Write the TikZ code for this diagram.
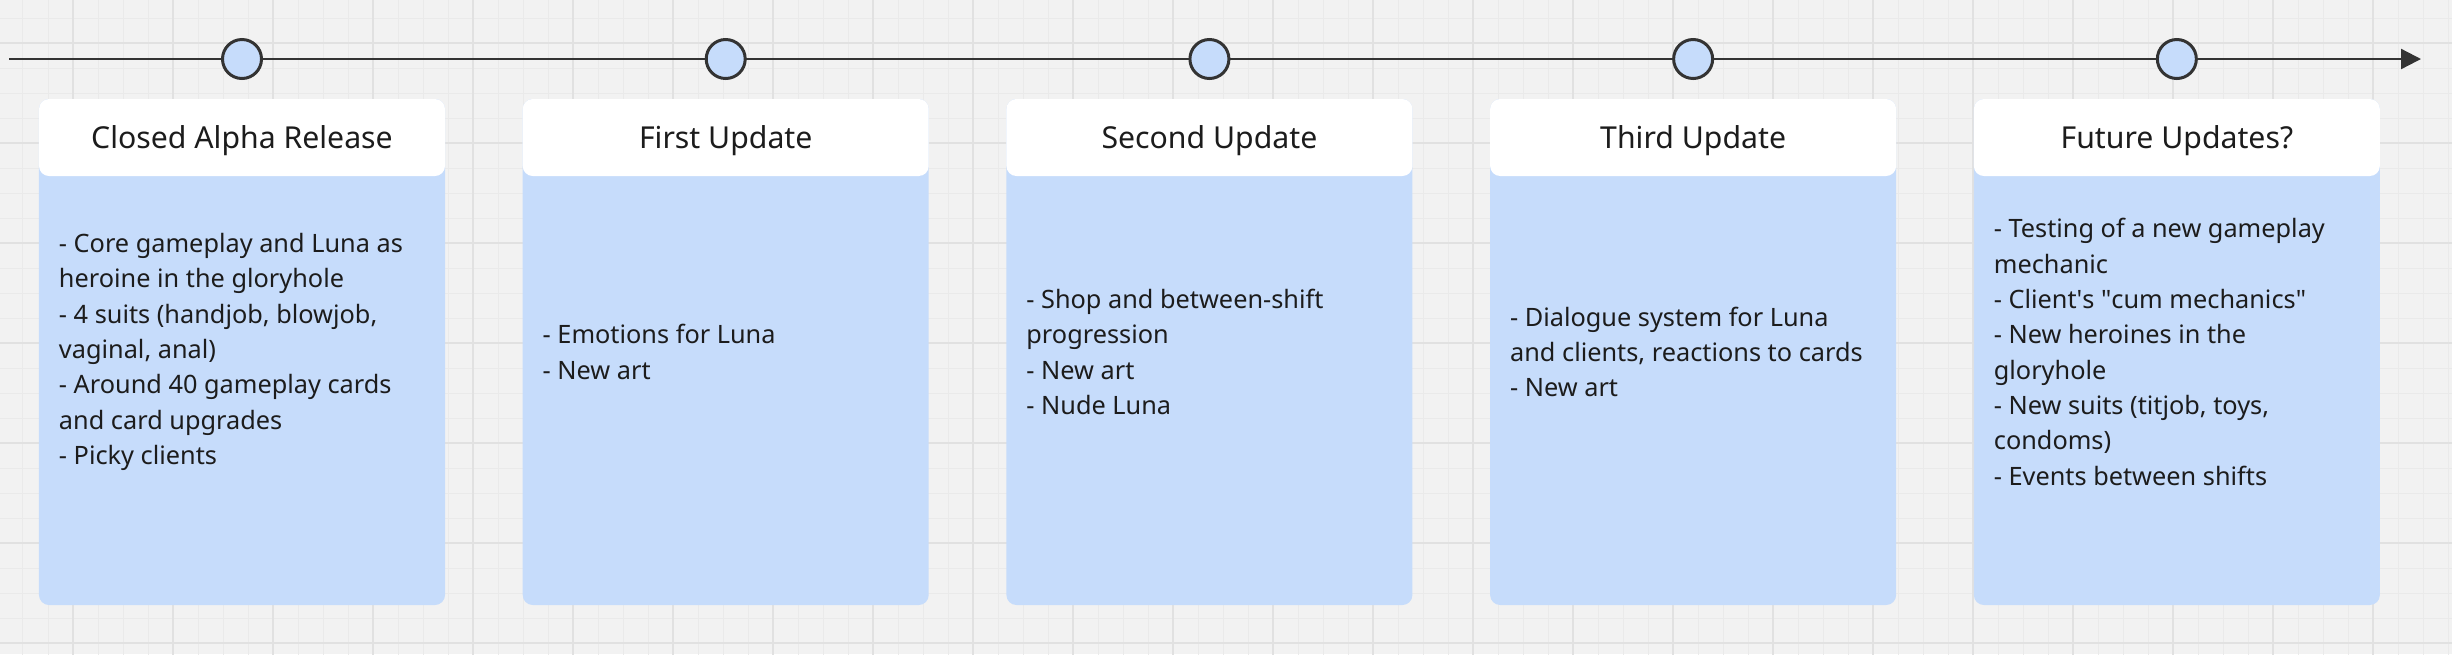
\documentclass[tikz,border=0pt]{standalone}
\usepackage{fontspec}
\setmainfont{Noto Sans}
\usetikzlibrary{positioning,arrows.meta}

\definecolor{boardbg}{HTML}{F2F2F2}
\definecolor{gridminor}{HTML}{EAEAEA}
\definecolor{gridmajor}{HTML}{E1E1E1}
\definecolor{cardblue}{HTML}{C6DCFB}
\definecolor{inkdark}{HTML}{1C1C1C}
\definecolor{linedark}{HTML}{333333}

\tikzset{
  card/.style={rectangle, rounded corners=2mm, fill=cardblue, minimum width=81.2mm, minimum height=101.2mm, inner sep=0pt},
  head/.style={rectangle, rounded corners=2mm, fill=white, minimum width=81.2mm, minimum height=15.4mm, inner sep=0pt, text=inkdark, text height=12.6pt, text depth=0pt, font=\fontsize{17.2}{21}\selectfont},
  notes/.style={align=left, inner sep=0pt, text=inkdark, font=\fontsize{14.4}{20.1}\selectfont},
  mile/.style={circle, draw=linedark, line width=0.6mm, fill=cardblue, minimum size=7.8mm, inner sep=0pt}
}

\begin{document}
\begin{tikzpicture}[x=0.2mm, y=-0.2mm]

\useasboundingbox (0,0) rectangle (2452,654);
\fill [boardbg] (0,0) rectangle (2452,654);

% board grid
\begin{scope}
\clip (0,0) rectangle (2452,654);
\draw [gridminor, line width=0.2mm, step=5mm, shift={(73,43)}] (-100,-100) grid (2400,700);
\draw [gridmajor, line width=0.25mm, step=20mm, shift={(73,43)}] (-100,-100) grid (2400,700);
\end{scope}

% time line
\coordinate (tstart) at (9,59);
\coordinate (tend) at (2421,59);
\draw [linedark, line width=0.45mm, -{Triangle[length=4mm, width=4mm]}] (tstart) -- (tend);

% cards
\draw (242,352) node (card1) [card] {};
\node (card2) [card, right=15.4mm of card1] {};
\node (card3) [card, right=15.4mm of card2] {};
\node (card4) [card, right=15.4mm of card3] {};
\node (card5) [card, right=15.4mm of card4] {};

% milestones
\draw (card1.north |- tstart) node (m1) [mile] {};
\draw (card2.north |- tstart) node (m2) [mile] {};
\draw (card3.north |- tstart) node (m3) [mile] {};
\draw (card4.north |- tstart) node (m4) [mile] {};
\draw (card5.north |- tstart) node (m5) [mile] {};

% headers
\node (head1) [head, below=0pt of card1.north] {Closed Alpha Release};
\node (head2) [head, below=0pt of card2.north] {First Update};
\node (head3) [head, below=0pt of card3.north] {Second Update};
\node (head4) [head, below=0pt of card4.north] {Third Update};
\node (head5) [head, below=0pt of card5.north] {Future Updates?};

% notes
\node (note1) [notes, right=4mm of card1.west] {- Core gameplay and Luna as\\heroine in the gloryhole\\- 4 suits (handjob, blowjob,\\vaginal, anal)\\- Around 40 gameplay cards\\and card upgrades\\- Picky clients};
\node (note2) [notes, right=4mm of card2.west] {- Emotions for Luna\\- New art};
\node (note3) [notes, right=4mm of card3.west] {- Shop and between-shift\\progression\\- New art\\- Nude Luna};
\node (note4) [notes, right=4mm of card4.west] {- Dialogue system for Luna\\and clients, reactions to cards\\- New art};
\node (note5) [notes, right=4mm of card5.west] {- Testing of a new gameplay\\mechanic\\- Client\textquotesingle s \textquotedbl cum mechanics\textquotedbl\\- New heroines in the\\gloryhole\\- New suits (titjob, toys,\\condoms)\\- Events between shifts};

\end{tikzpicture}
\end{document}
